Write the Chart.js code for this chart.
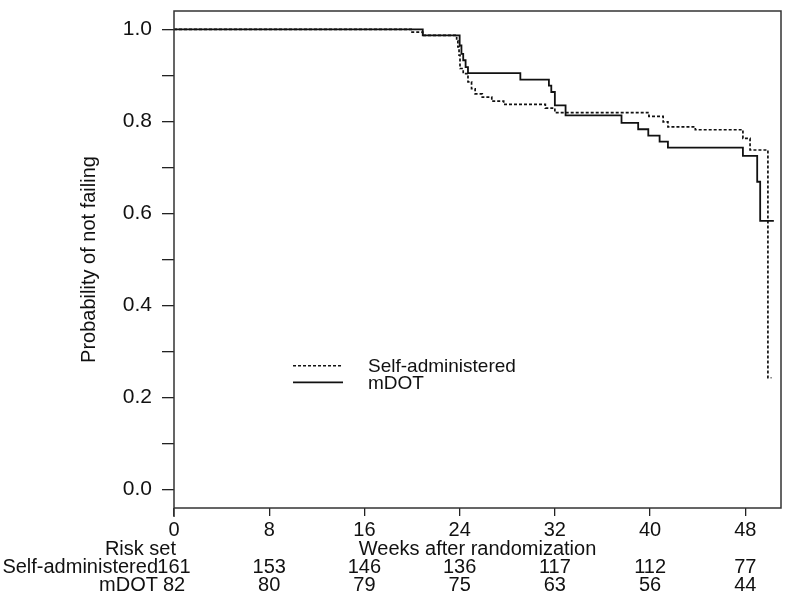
<!DOCTYPE html>
<html>
<head>
<meta charset="utf-8">
<script src="https://cdn.jsdelivr.net/npm/chart.js@4.4.0/dist/chart.umd.min.js"></script>
<style>
  html, body { margin: 0; padding: 0; background: #fff; }
  #wrap { width: 800px; height: 610px; }
</style>
</head>
<body>
<div id="wrap"><canvas id="km" width="800" height="610"></canvas></div>
<script>
// Kaplan-Meier estimates (weeks, probability of not failing)
const selfWeeks = [0, 20.0, 20.9, 23.75, 23.85, 23.95, 24.03, 24.3, 24.7, 25.0, 25.3, 25.9, 26.7, 27.7, 31.2, 32.0, 39.9, 41.1, 41.5, 43.8, 47.8, 48.4, 49.9, 50.2];
const selfSurv  = [1.0, 0.994, 0.987, 0.975, 0.962, 0.944, 0.915, 0.904, 0.886, 0.871, 0.860, 0.853, 0.844, 0.837, 0.829, 0.819, 0.811, 0.799, 0.788, 0.782, 0.763, 0.738, 0.243, 0.243];

const mdotWeeks = [0, 20.9, 24.0, 24.15, 24.3, 24.5, 24.7, 29.1, 31.5, 31.7, 32.0, 32.9, 37.6, 39.0, 39.85, 40.8, 41.5, 47.8, 49.0, 49.25, 50.4];
const mdotSurv  = [1.0, 0.987, 0.965, 0.947, 0.933, 0.918, 0.905, 0.891, 0.878, 0.864, 0.835, 0.813, 0.797, 0.783, 0.769, 0.756, 0.743, 0.725, 0.669, 0.584, 0.584];

const xTicks = [0, 8, 16, 24, 32, 40, 48];
const yTicks = [0, 0.1, 0.2, 0.3, 0.4, 0.5, 0.6, 0.7, 0.8, 0.9, 1.0];
const yTickLabels = ['0.0', '', '0.2', '', '0.4', '', '0.6', '', '0.8', '', '1.0'];

// numbers at risk at each x tick
const riskGroups = ['Self-administered', 'mDOT'];
const riskSelf = [161, 153, 146, 136, 117, 112, 77];
const riskMdot = [82, 80, 79, 75, 63, 56, 44];

const FONT = '"Liberation Sans", Arial, Helvetica, sans-serif';
const INK = '#111';

function toPoints(xs, ys) {
    return xs.map((x, i) => ({ x: x, y: ys[i] }));
}

// box around the plot + the risk table under the axis
const framePlugin = {
    id: 'frame',
    afterDraw(chart) {
        const { ctx, chartArea: a } = chart;
        const xs = chart.scales.x;
        ctx.save();
        ctx.strokeStyle = '#333';
        ctx.lineWidth = 1.5;
        ctx.strokeRect(a.left, a.top, a.right - a.left, a.bottom - a.top);
        ctx.beginPath();
        ctx.moveTo(a.left, a.bottom);
        ctx.lineTo(a.left, a.bottom + 9);
        ctx.stroke();

        ctx.fillStyle = INK;
        ctx.font = '20px ' + FONT;
        ctx.textBaseline = 'middle';

        // row titles
        const x0 = xs.getPixelForValue(0);
        ctx.textAlign = 'right';
        ctx.fillText('Risk set', x0 + 2, 549);
        ctx.fillText(riskGroups[0], x0 - 16, 567);
        ctx.fillText(riskGroups[1], x0 - 16, 585);

        ctx.textAlign = 'center';
        ctx.fillText('Weeks after randomization', (a.left + a.right) / 2, 549);
        xTicks.forEach((t, i) => {
            const px = xs.getPixelForValue(t);
            ctx.fillText(String(riskSelf[i]), px, 567);
            ctx.fillText(String(riskMdot[i]), px, 585);
        });

        // y axis title
        ctx.save();
        ctx.translate(89, (a.top + a.bottom) / 2);
        ctx.rotate(-Math.PI / 2);
        ctx.fillText('Probability of not failing', 0, 0);
        ctx.restore();

        // legend, placed in data units
        const ys = chart.scales.y;
        const lx1 = xs.getPixelForValue(10.0), lx2 = xs.getPixelForValue(14.2);
        const tx = xs.getPixelForValue(16.3);
        const rows = [
            { y: ys.getPixelForValue(0.269), dash: [3, 2], label: 'Self-administered' },
            { y: ys.getPixelForValue(0.233), dash: [], label: 'mDOT' }
        ];
        ctx.font = '19px ' + FONT;
        ctx.textAlign = 'left';
        rows.forEach(r => {
            ctx.beginPath();
            ctx.setLineDash(r.dash);
            ctx.strokeStyle = INK;
            ctx.lineWidth = 1.6;
            ctx.moveTo(lx1, r.y);
            ctx.lineTo(lx2, r.y);
            ctx.stroke();
            ctx.fillText(r.label, tx, r.y + 1);
        });
        ctx.restore();
    }
};

new Chart(document.getElementById('km').getContext('2d'), {
    type: 'line',
    data: {
        datasets: [{
            label: 'Self-administered',
            data: toPoints(selfWeeks, selfSurv),
            borderColor: INK,
            borderWidth: 1.7,
            borderDash: [3, 2],
            stepped: 'before',
            pointRadius: 0,
            fill: false
        }, {
            label: 'mDOT',
            data: toPoints(mdotWeeks, mdotSurv),
            borderColor: INK,
            borderWidth: 1.8,
            stepped: 'before',
            pointRadius: 0,
            fill: false
        }]
    },
    plugins: [framePlugin],
    options: {
        responsive: false,
        animation: false,
        devicePixelRatio: 1,
        layout: { padding: { top: 11, right: 19, left: 0, bottom: 0 } },
        plugins: {
            legend: { display: false },
            tooltip: { enabled: false }
        },
        scales: {
            x: {
                type: 'linear',
                min: 0,
                max: 51,
                afterBuildTicks: s => { s.ticks = xTicks.map(v => ({ value: v })); },
                afterFit: s => { s.height = 102; s.paddingLeft = 0; s.paddingRight = 0; },
                border: { display: false },
                grid: { drawOnChartArea: false, tickLength: 8, color: '#222', lineWidth: 1.3 },
                ticks: {
                    autoSkip: false,
                    maxRotation: 0,
                    padding: 2,
                    color: INK,
                    font: { family: FONT, size: 20 },
                    callback: v => String(v)
                }
            },
            y: {
                min: -0.04,
                max: 1.04,
                afterBuildTicks: s => { s.ticks = yTicks.map(v => ({ value: v })); },
                afterFit: s => { s.width = 174; s.paddingTop = 0; s.paddingBottom = 0; },
                border: { display: false },
                grid: { drawOnChartArea: false, tickLength: 12, color: '#222', lineWidth: 1.3 },
                ticks: {
                    autoSkip: false,
                    padding: 10,
                    color: INK,
                    font: { family: FONT, size: 21 },
                    callback: (v, i) => yTickLabels[i]
                }
            }
        }
    }
});
</script>
</body>
</html>
